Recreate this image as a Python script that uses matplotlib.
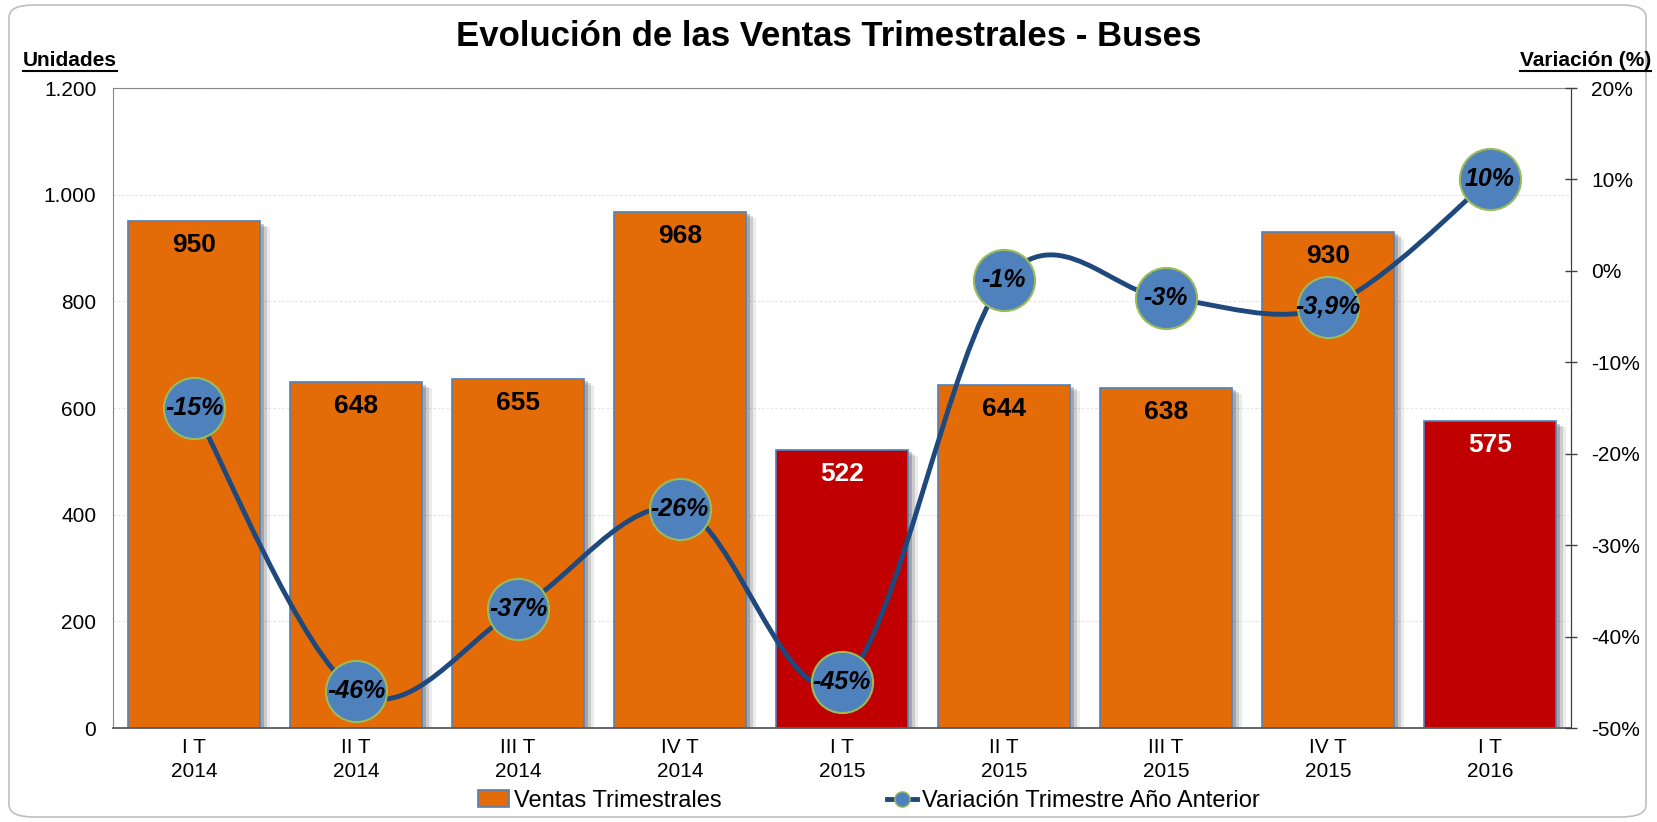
import numpy as np
import matplotlib
matplotlib.use("Agg")
import matplotlib.pyplot as plt
from matplotlib.path import Path
from matplotlib.patches import PathPatch, FancyBboxPatch, Patch
from matplotlib.lines import Line2D
from matplotlib.ticker import FuncFormatter, MultipleLocator
from matplotlib import font_manager

# data
trimestres = ["I T\n2014", "II T\n2014", "III T\n2014", "IV T\n2014", "I T\n2015",
              "II T\n2015", "III T\n2015", "IV T\n2015", "I T\n2016"]
ventas = [950, 648, 655, 968, 522, 644, 638, 930, 575]
variacion = [-15, -46, -37, -26, -45, -1, -3, -3.9, 10]
var_labels = ["-15%", "-46%", "-37%", "-26%", "-45%", "-1%", "-3%", "-3,9%", "10%"]
destacado = [False, False, False, False, True, False, False, False, True]

names = {f.name for f in font_manager.fontManager.ttflist}
base = "Liberation Sans" if "Liberation Sans" in names else "DejaVu Sans"
narrow = "Liberation Sans Narrow" if "Liberation Sans Narrow" in names else base
plt.rcParams["font.family"] = [base, "DejaVu Sans"]

naranja = "#E36C09"
rojo = "#C00000"
azul_linea = "#1F497D"
azul_marker = "#4F81BD"
verde_borde = "#9BBB59"

fig = plt.figure(figsize=(16.57, 8.22), dpi=100)
ax = fig.add_axes([113 / 1657, 94 / 822, 1458 / 1657, 640 / 822])
ax2 = ax.twinx()

x = np.arange(len(ventas))
colores = [rojo if d else naranja for d in destacado]
px = 9 / 1458.0
w = 0.81

# shadow behind bars
for off, a in [(10, 0.10), (7, 0.18), (4, 0.28)]:
    ax.bar(x + off * px, np.array(ventas) - off * 0.6 * 1200 / 640, width=w,
           bottom=0, color="#404040", alpha=a, linewidth=0, zorder=1)
bars = ax.bar(x, ventas, width=w, color=colores, edgecolor=azul_marker, linewidth=1.2, zorder=2)

for xi, v, d in zip(x, ventas, destacado):
    ax.annotate(str(v), (xi, v), xytext=(0, -24), textcoords="offset pixels",
                ha="center", va="center", fontsize=19, fontweight="bold",
                color="white" if d else "black", zorder=5)

ax.set_xlim(-0.5, len(ventas) - 0.5)
ax.set_ylim(0, 1200)
ax.yaxis.set_major_locator(MultipleLocator(200))
ax.yaxis.set_major_formatter(FuncFormatter(lambda v, p: "{:,.0f}".format(v).replace(",", ".")))
ax.grid(axis="y", color="#E3E3E3", linestyle=(0, (2, 2)), linewidth=0.8)
ax.set_axisbelow(True)
ax.set_xticks(x)
ax.set_xticklabels(trimestres, fontsize=15, family=[narrow, "DejaVu Sans"], linespacing=1.35)
ax.tick_params(axis="x", length=0, pad=7)
ax.tick_params(axis="y", length=0, pad=12, labelsize=15)
for s in ["left", "top"]:
    ax.spines[s].set_color("#868686")
ax.spines["bottom"].set_color("#595959")
ax.spines["bottom"].set_linewidth(1.3)

# smoothed line (bezier through the points, as the spreadsheet draws it)
ax2.set_ylim(-50, 20)
pts = np.column_stack([x, variacion]).astype(float)
verts = [pts[0]]
codes = [Path.MOVETO]
n = len(pts)
for i in range(n - 1):
    p0 = pts[i - 1] if i > 0 else pts[i]
    p3 = pts[i + 2] if i + 2 < n else pts[i + 1]
    c1 = pts[i] + (pts[i + 1] - p0) / 6.0
    c2 = pts[i + 1] - (p3 - pts[i]) / 6.0
    verts += [c1, c2, pts[i + 1]]
    codes += [Path.CURVE4] * 3
ax2.add_patch(PathPatch(Path(verts, codes), facecolor="none", edgecolor=azul_linea,
                        linewidth=3.5, zorder=3, capstyle="round"))
ax2.plot(x, variacion, linestyle="none", marker="o", markersize=44,
         markerfacecolor=azul_marker, markeredgecolor=verde_borde, markeredgewidth=1.5, zorder=4)
for xi, v, lab in zip(x, variacion, var_labels):
    ax2.text(xi, v, lab, ha="center", va="center", fontsize=18, fontweight="bold",
             fontstyle="italic", color="black", zorder=6)

ax2.yaxis.set_major_locator(MultipleLocator(10))
ax2.yaxis.set_major_formatter(FuncFormatter(lambda v, p: "{:.0f}%".format(v)))
ax2.tick_params(axis="y", direction="inout", length=9, width=1, color="#404040",
                pad=10, labelsize=15)
ax2.spines["right"].set_color("#404040")
for s in ["left", "top", "bottom"]:
    ax2.spines[s].set_visible(False)
ax.set_zorder(1)
ax.patch.set_visible(False)
ax2.set_zorder(2)

# titles
fig.text(0.5, 1 - 37 / 822, "Evolución de las Ventas Trimestrales - Buses",
         ha="center", va="center", fontsize=25, fontweight="bold")
t1 = fig.text(23 / 1657, 1 - 60 / 822, "Unidades", ha="left", va="center",
              fontsize=15, fontweight="bold")
t2 = fig.text(1651 / 1657, 1 - 60 / 822, "Variación (%)", ha="right", va="center",
              fontsize=15, fontweight="bold")
fig.canvas.draw()
r = fig.canvas.get_renderer()
for t in [t1, t2]:
    bb = t.get_window_extent(r)
    y0 = (bb.y0 - 2) / fig.bbox.height
    fig.add_artist(Line2D([bb.x0 / fig.bbox.width, bb.x1 / fig.bbox.width], [y0, y0],
                          color="black", linewidth=1.5, transform=fig.transFigure))

# legend
h1 = Patch(facecolor=naranja, edgecolor=azul_marker, linewidth=1.2)
h2 = Line2D([], [], color=azul_linea, linewidth=3.5, marker="o", markersize=11,
            markerfacecolor=azul_marker, markeredgecolor=verde_borde)
fig.legend([h1, h2], ["Ventas Trimestrales", "Variación Trimestre Año Anterior"],
           loc="center", bbox_to_anchor=(869 / 1657, 1 - 801 / 822), ncol=2, frameon=False,
           prop={"family": [narrow, "DejaVu Sans"], "size": 17},
           handlelength=1.3, handletextpad=0.2, columnspacing=7)

# rounded frame
fig.patches.append(FancyBboxPatch((9 / 1657, 5 / 822), 1646 / 1657 - 9 / 1657, 812 / 822,
                                  boxstyle="round,pad=0,rounding_size=0.015",
                                  transform=fig.transFigure, facecolor="none",
                                  edgecolor="#BFBFBF", linewidth=1.2, zorder=0))

fig.savefig("out.png", dpi=100)
